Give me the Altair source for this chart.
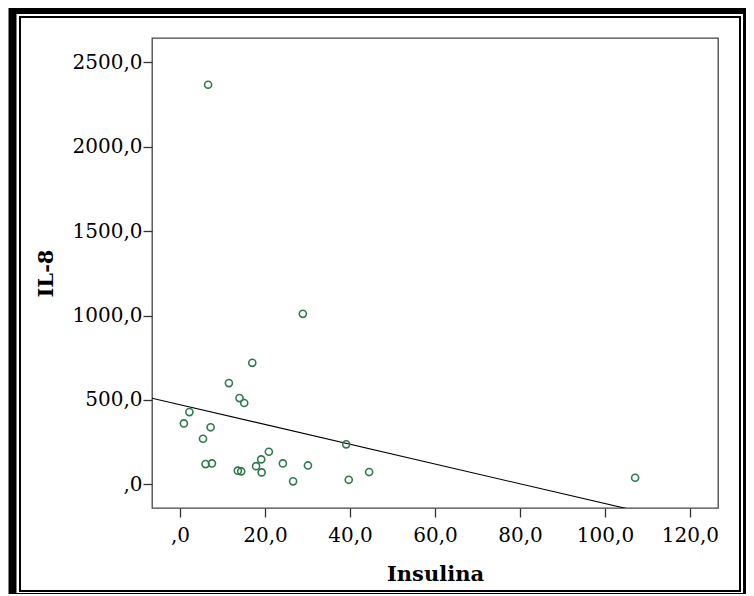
import altair as alt
import pandas as pd

# Data
insulina = [28.9, 17.0, 11.5, 14.0, 15.1, 2.2, 0.9, 7.2, 5.4, 6.0, 7.5, 13.6, 14.4,
            17.9, 19.1, 19.2, 20.9, 24.2, 26.6, 30.1, 39.1, 39.7, 44.5, 107.1, 6.6]
il8 = [1010, 720, 600, 511, 482, 428, 361, 338, 270, 120, 124, 81, 77,
       108, 148, 71, 193, 124, 18, 112, 237, 27, 73, 39, 2367]

x_ticks = [0, 20, 40, 60, 80, 100, 120]
y_ticks = [0, 500, 1000, 1500, 2000, 2500]
x_domain = [-6.6, 126.6]
y_domain = [-140, 2644]

df = pd.DataFrame({"Insulina": insulina, "IL8": il8})

label_expr = "datum.value == 0 ? ',0' : replace(format(datum.value, '.1f'), '.', ',')"
FONT = "DejaVu Serif"
GREEN = "#2f7a4d"

x_enc = alt.X("Insulina:Q",
              scale=alt.Scale(domain=x_domain, nice=False, zero=False),
              axis=alt.Axis(values=x_ticks, labelExpr=label_expr, title="Insulina",
                            titleX=283, titleY=72, titleBaseline="alphabetic",
                            labelPadding=8, tickSize=9))
y_enc = alt.Y("IL8:Q",
              scale=alt.Scale(domain=y_domain, nice=False, zero=False),
              axis=alt.Axis(values=y_ticks, labelExpr=label_expr, title="IL-8",
                            titleX=-100, titleY=235, titleBaseline="alphabetic",
                            labelPadding=1, tickSize=9))

base = alt.Chart(df)

points = base.mark_point(shape="circle", filled=False, color=GREEN,
                         strokeWidth=1.6, size=50, opacity=1).encode(x=x_enc, y=y_enc)

fit = base.transform_regression("Insulina", "IL8", extent=x_domain).mark_line(
    color="black", strokeWidth=1.1, clip=True).encode(x=x_enc, y=y_enc)

frame_data = alt.Data(values=[{"k": 1}])
outer = alt.Chart(frame_data).mark_rect(filled=False, stroke="black", strokeWidth=8,
                                        clip=False).encode(
    x=alt.value(-139.5), x2=alt.value(595), y=alt.value(-28), y2=alt.value(559))
inner = alt.Chart(frame_data).mark_rect(filled=False, stroke="black", strokeWidth=2,
                                        clip=False).encode(
    x=alt.value(-132), x2=alt.value(588), y=alt.value(-21), y2=alt.value(553))

chart = alt.layer(outer, inner, fit, points).properties(
    width=566, height=470,
    autosize=alt.AutoSizeParams(type="none"),
    padding={"left": 144, "top": 30, "right": 28, "bottom": 86},
    background="white",
).configure_view(
    stroke="#444444", strokeWidth=1.3
).configure_axis(
    grid=False, domain=False,
    labelFont=FONT, labelFontSize=20, labelColor="black",
    tickColor="#333333", tickWidth=1.3,
    titleFont=FONT, titleFontSize=21, titleFontWeight="bold", titleColor="black",
)

chart.save("out.html", embed_options={"renderer": "svg", "actions": False})
